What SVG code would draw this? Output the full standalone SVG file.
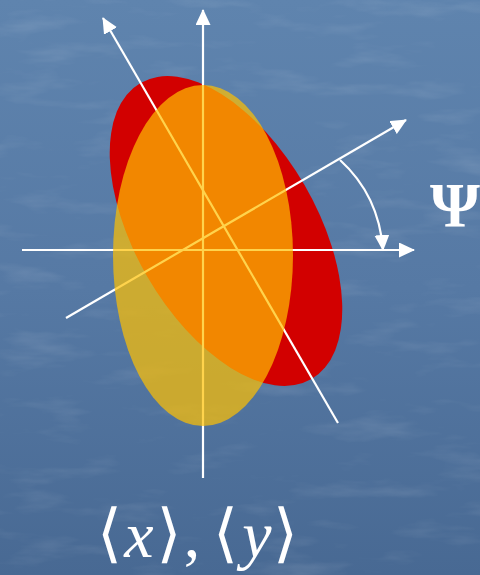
<svg xmlns="http://www.w3.org/2000/svg" width="480" height="575" viewBox="0 0 480 575">
  <defs>
    <linearGradient id="bg" x1="0" y1="0" x2="0" y2="1">
      <stop offset="0" stop-color="#5f84ae"/>
      <stop offset="0.5" stop-color="#5679a4"/>
      <stop offset="1" stop-color="#486993"/>
    </linearGradient>
    <filter id="tex" x="0" y="0" width="100%" height="100%">
      <feTurbulence type="fractalNoise" baseFrequency="0.012 0.05" numOctaves="4" seed="3" result="n"/>
      <feColorMatrix in="n" type="matrix" values="0 0 0 0 1  0 0 0 0 1  0 0 0 0 1  0 0 0 1.4 -0.75"/>
    </filter>
    <marker id="ah" markerUnits="userSpaceOnUse" viewBox="0 0 16 15" refX="15" refY="7.5" markerWidth="16" markerHeight="15" orient="auto">
      <path d="M0,0 L16,7.5 L0,15 z" fill="#ffffff"/>
    </marker>
    <style>
      .ax { stroke: #ffffff; stroke-width: 2.2; fill: none; }
      .lbl { fill: #ffffff; font-family: "Liberation Serif", "Times New Roman", serif; }
      .br { fill: #ffffff; font-family: "DejaVu Sans", "DejaVu Serif", sans-serif; font-size: 64px; text-anchor: middle; }
    </style>
  </defs>
  <rect id="background" x="0" y="0" width="480" height="575" fill="url(#bg)"/>
  <rect x="0" y="0" width="480" height="575" filter="url(#tex)" opacity="0.18"/>

  <g id="red-ellipse">
    <ellipse cx="226" cy="231" rx="171" ry="91" transform="rotate(60 226 231)" fill="#d20000"/>
  </g>

  <g id="connectors">
    <line class="ax" x1="203" y1="478" x2="203" y2="10" marker-end="url(#ah)"/>
    <line class="ax" x1="22" y1="250" x2="414" y2="250" marker-end="url(#ah)"/>
    <line class="ax" x1="66" y1="318" x2="406" y2="120" marker-end="url(#ah)"/>
    <line class="ax" x1="338" y1="423" x2="103" y2="18" marker-end="url(#ah)"/>
    <path id="angle-arc" class="ax" d="M340,160 C362,180 380,210 383,250" marker-end="url(#ah)"/>
  </g>

  <g id="yellow-ellipse">
    <ellipse cx="203" cy="255.5" rx="90" ry="170.5" fill="#ffc000" fill-opacity="0.7"/>
  </g>

  <g id="psi-label">
    <text class="lbl" x="455" y="227" font-size="64" font-weight="bold" text-anchor="middle">Ψ</text>
  </g>

  <g id="mean-label">
    <text class="br" x="109.5" y="555">⟨</text>
    <text font-family="Liberation Serif, serif" fill="#ffffff" x="139" y="557" font-size="66" font-style="italic" text-anchor="middle">x</text>
    <text class="br" x="169" y="555">⟩</text>
    <text font-family="Liberation Serif, serif" fill="#ffffff" x="192" y="557" font-size="66" text-anchor="middle">,</text>
    <text class="br" x="225.5" y="555">⟨</text>
    <text font-family="Liberation Serif, serif" fill="#ffffff" x="257" y="557" font-size="66" font-style="italic" text-anchor="middle">y</text>
    <text class="br" x="285.5" y="555">⟩</text>
  </g>
</svg>
